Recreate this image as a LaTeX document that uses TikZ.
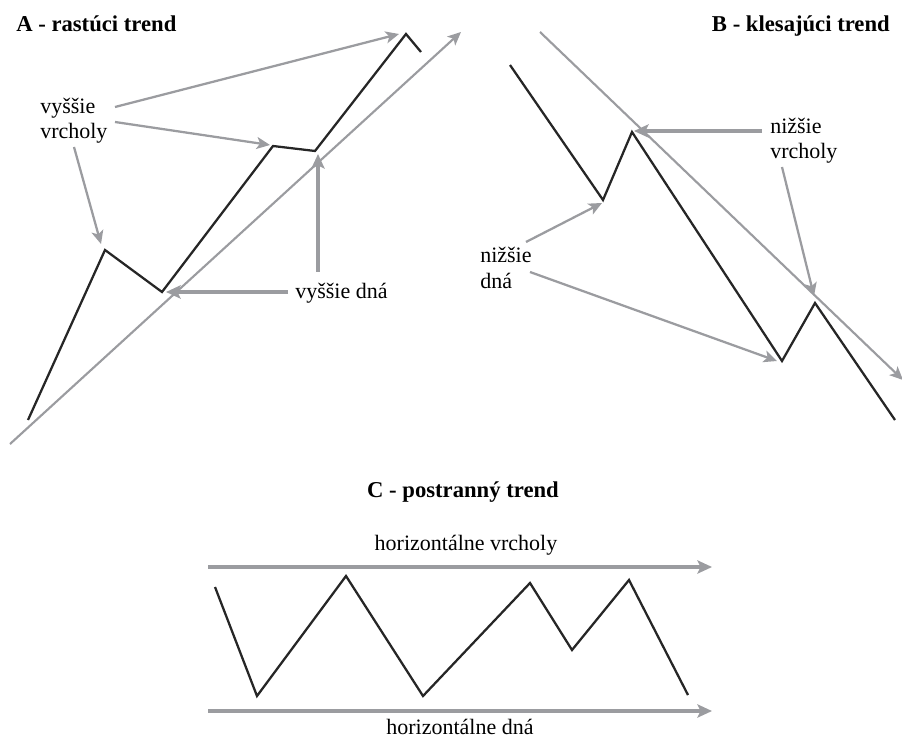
\documentclass[tikz,border=0pt]{standalone}
\usepackage{fontspec}
\setmainfont{Liberation Serif}
\usetikzlibrary{arrows.meta}

\definecolor{trendgray}{RGB}{155,156,160}

\tikzset{
        price/.style={black!85, line width=1.7pt, line join=miter},
        trendline/.style={trendgray, line width=1.6pt, -{Stealth[length=10pt,width=9pt,inset=2.5pt]}},
        pointer/.style={trendgray, line width=1.7pt, -{Stealth[length=10pt,width=9pt,inset=2.5pt]}},
        thickpointer/.style={trendgray, line width=2.3pt, -{Stealth[length=11pt,width=10pt,inset=2.5pt]}},
        popis/.style={inner sep=0pt, font=\fontsize{16.5}{19}\selectfont, align=left},
        nadpis/.style={inner sep=0pt, font=\fontsize{17}{20}\selectfont\bfseries}
}

\begin{document}
\begin{tikzpicture}[x=0.75pt, y=-0.75pt]
        \useasboundingbox (0,0) rectangle (902,737);
        \clip (0,0) rectangle (902,737);

        % A - rising trend
        \coordinate (A0) at (28,420);
        \coordinate (A1) at (105,250);
        \coordinate (A2) at (162,292);
        \coordinate (A3) at (273,146);
        \coordinate (A4) at (315,151);
        \coordinate (A5) at (406,34);
        \coordinate (A6) at (421,52);
        \coordinate (TA0) at (10,444);
        \coordinate (TA1) at (461,32);

        \draw[price] (A0) -- (A1) -- (A2) -- (A3) -- (A4) -- (A5) -- (A6);
        \draw[trendline] (TA0) -- (TA1);

        \node[nadpis, anchor=base west] (titleA) at (16,32) {A - rastúci trend};
        \node[popis, anchor=west] (vv) at (40,121) {vyššie\\vrcholy};
        \node[popis, anchor=west] (vd) at (295,293) {vyššie dná};

        \coordinate (vv1) at (115,107);
        \coordinate (vv2) at (115,122);
        \coordinate (vv3) at (74,147);
        \coordinate (vd1) at (288,292);
        \coordinate (vd2) at (318,272);

        \draw[pointer] (vv1) -- (399,34);
        \draw[pointer] (vv2) -- (270,145);
        \draw[pointer] (vv3) -- (101,244);
        \draw[thickpointer] (vd1) -- (166,292);
        \draw[thickpointer] (vd2) -- (318,154);

        % B - falling trend
        \coordinate (B0) at (510,65);
        \coordinate (B1) at (603,200);
        \coordinate (B2) at (632,132);
        \coordinate (B3) at (782,361);
        \coordinate (B4) at (815,303);
        \coordinate (B5) at (895,420);
        \coordinate (TB0) at (540,32);
        \coordinate (TB1) at (903,380);

        \draw[price] (B0) -- (B1) -- (B2) -- (B3) -- (B4) -- (B5);
        \draw[trendline] (TB0) -- (TB1);

        \node[nadpis, anchor=base east] (titleB) at (890,32) {B - klesajúci trend};
        \node[popis, anchor=west] (nv) at (770,141) {nižšie\\vrcholy};
        \node[popis, anchor=west] (nd) at (480,268) {nižšie\\dná};

        \coordinate (nv1) at (762,131);
        \coordinate (nv2) at (782,167);
        \coordinate (nd1) at (526,242);
        \coordinate (nd2) at (530,272);

        \draw[thickpointer] (nv1) -- (634,131);
        \draw[pointer] (nv2) -- (814,296);
        \draw[pointer] (nd1) -- (602,203);
        \draw[pointer] (nd2) -- (777,361);

        % C - sideways trend
        \coordinate (C0) at (215,587);
        \coordinate (C1) at (257,696);
        \coordinate (C2) at (346,576);
        \coordinate (C3) at (423,696);
        \coordinate (C4) at (530,583);
        \coordinate (C5) at (572,650);
        \coordinate (C6) at (629,580);
        \coordinate (C7) at (688,695);

        \draw[price] (C0) -- (C1) -- (C2) -- (C3) -- (C4) -- (C5) -- (C6) -- (C7);

        \coordinate (HV0) at (208,567);
        \coordinate (HV1) at (712,567);
        \coordinate (HD0) at (208,711);
        \coordinate (HD1) at (712,711);

        \draw[thickpointer] (HV0) -- (HV1);
        \draw[thickpointer] (HD0) -- (HD1);

        \node[nadpis, anchor=base] (titleC) at (463,497) {C - postranný trend};
        \node[popis] (hv) at (466,545) {horizontálne vrcholy};
        \node[popis, anchor=base] (hd) at (460,734) {horizontálne dná};
\end{tikzpicture}
\end{document}
